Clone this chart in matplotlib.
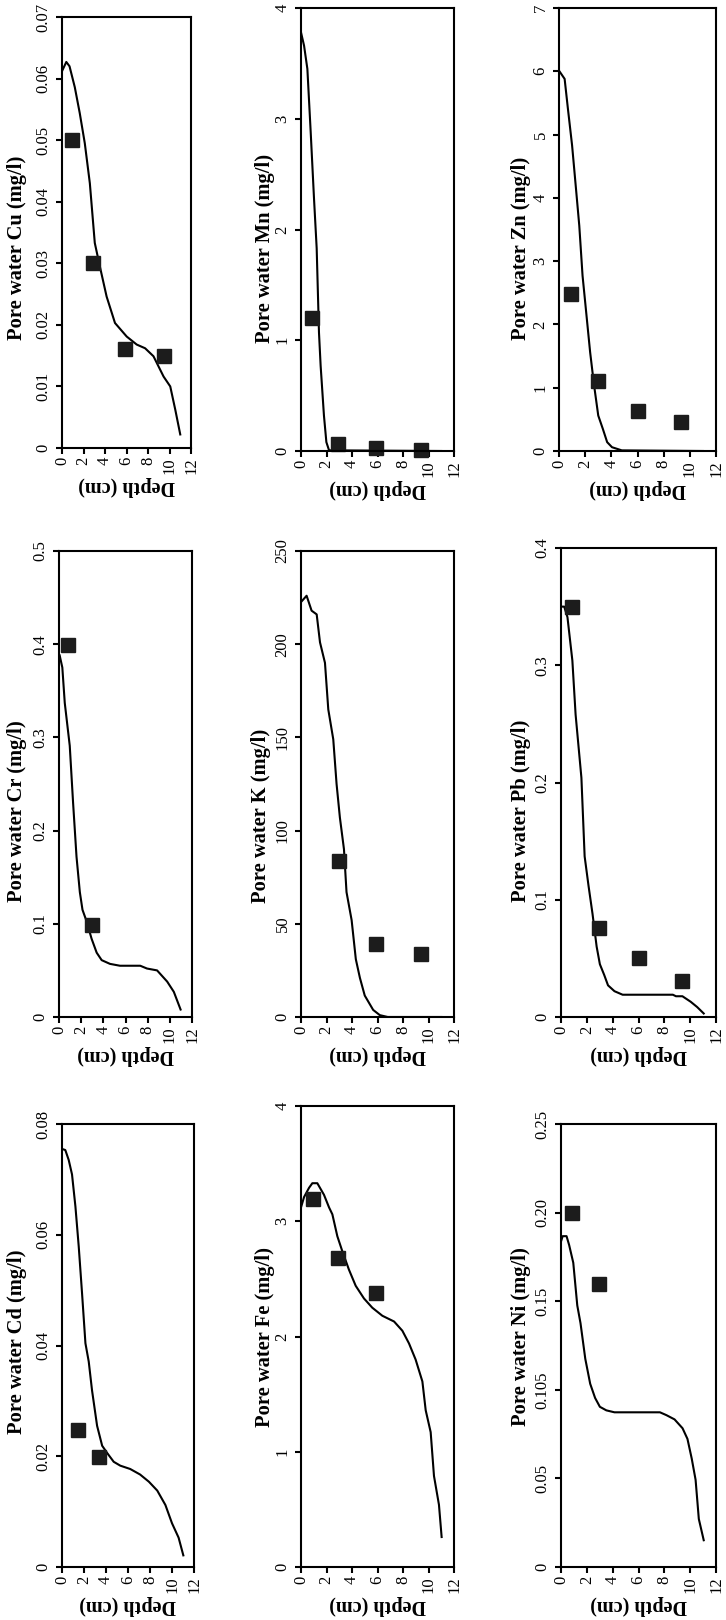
import matplotlib
matplotlib.use("Agg")
import matplotlib.pyplot as plt

plt.rcParams['font.family'] = ['Liberation Serif', 'DejaVu Serif']

W, H = 726, 1620

# ---------------- data (depth in cm, concentration in mg/l) ----------------
cu_curve_depth = [0.0, 0.4, 0.7, 1.19, 1.65, 2.12, 2.59, 3.05, 3.52, 4.15, 4.93, 6.02, 6.95, 7.73, 8.51, 9.45, 10.07, 10.54, 11.0]
cu_curve_conc = [0.0612, 0.0627, 0.062, 0.0586, 0.0544, 0.0495, 0.043, 0.0333, 0.0295, 0.0246, 0.0203, 0.0181, 0.0168, 0.0162, 0.0149, 0.0116, 0.0100, 0.0062, 0.0022]
cu_obs_depth = [0.9, 2.9, 5.9, 9.45]
cu_obs_conc = [0.050, 0.030, 0.016, 0.015]

mn_curve_depth = [0.0, 0.24, 0.5, 0.76, 1.02, 1.23, 1.41, 1.54, 1.8, 1.99, 2.2, 11.0]
mn_curve_conc = [3.78, 3.66, 3.45, 2.88, 2.28, 1.83, 1.07, 0.77, 0.32, 0.08, 0.006, 0.0]
mn_obs_depth = [0.9, 2.9, 5.9, 9.45]
mn_obs_conc = [1.2, 0.06, 0.03, 0.01]

zn_curve_depth = [0.0, 0.43, 0.68, 1.0, 1.3, 1.55, 1.8, 2.05, 2.38, 2.68, 3.0, 3.35, 3.68, 4.05, 4.8, 11.0]
zn_curve_conc = [6.01, 5.88, 5.41, 4.83, 4.14, 3.56, 2.77, 2.25, 1.56, 1.04, 0.56, 0.35, 0.14, 0.06, 0.01, 0.0]
zn_obs_depth = [0.9, 2.95, 6.0, 9.35]
zn_obs_conc = [2.48, 1.1, 0.63, 0.46]

cr_curve_depth = [0.06, 0.3, 0.52, 0.97, 1.27, 1.58, 1.88, 2.12, 2.48, 2.94, 3.4, 3.85, 4.6, 5.5, 7.33, 7.94, 8.85, 9.76, 10.36, 10.97]
cr_curve_conc = [0.388, 0.375, 0.337, 0.291, 0.230, 0.172, 0.134, 0.115, 0.103, 0.084, 0.069, 0.061, 0.057, 0.055, 0.055, 0.052, 0.050, 0.038, 0.027, 0.008]
cr_obs_depth = [0.85, 2.97]
cr_obs_conc = [0.399, 0.099]

k_curve_depth = [0.05, 0.44, 0.83, 1.23, 1.49, 1.88, 2.14, 2.53, 2.79, 3.05, 3.37, 3.57, 3.97, 4.3, 4.62, 5.0, 5.66, 6.18, 6.8, 11.0]
k_curve_conc = [223, 226, 218, 216, 201, 190, 165, 149, 125, 107, 90, 67, 52, 31, 21, 11.5, 3.8, 1.0, 0.0, 0.0]
k_obs_depth = [2.97, 5.92, 9.44]
k_obs_conc = [83.7, 39.3, 33.7]

pb_curve_depth = [0.0, 0.25, 0.5, 0.88, 1.13, 1.38, 1.58, 1.83, 2.13, 2.44, 2.76, 3.01, 3.34, 3.64, 4.14, 4.77, 6.4, 8.66, 8.9, 9.4, 10.04, 10.54, 11.05]
pb_curve_conc = [0.350, 0.350, 0.341, 0.304, 0.258, 0.228, 0.204, 0.137, 0.112, 0.088, 0.060, 0.045, 0.036, 0.027, 0.022, 0.019, 0.019, 0.019, 0.0177, 0.0177, 0.013, 0.0085, 0.003]
pb_obs_depth = [0.83, 2.94, 6.0, 9.34]
pb_obs_conc = [0.350, 0.0756, 0.050, 0.031]

cd_curve_depth = [0.0, 0.3, 0.61, 0.91, 1.22, 1.52, 1.82, 2.13, 2.43, 2.73, 3.19, 3.65, 4.1, 4.7, 5.3, 6.2, 7.1, 7.9, 8.66, 9.4, 10.0, 10.6, 11.03]
cd_curve_conc = [0.0755, 0.0753, 0.0735, 0.0709, 0.0651, 0.0579, 0.0495, 0.0404, 0.0371, 0.0319, 0.0255, 0.0219, 0.0206, 0.019, 0.0183, 0.0177, 0.0167, 0.0154, 0.0138, 0.0112, 0.0079, 0.0053, 0.0021]
cd_obs_depth = [1.43, 3.34]
cd_obs_conc = [0.0248, 0.0199]

fe_curve_depth = [0.0, 0.24, 0.63, 0.89, 1.28, 1.8, 2.2, 2.46, 2.85, 3.24, 3.76, 4.29, 4.94, 5.59, 6.38, 7.3, 7.95, 8.47, 8.99, 9.52, 9.78, 10.17, 10.43, 10.82, 11.03]
fe_curve_conc = [3.12, 3.21, 3.29, 3.33, 3.33, 3.23, 3.12, 3.06, 2.87, 2.74, 2.58, 2.44, 2.33, 2.25, 2.18, 2.13, 2.05, 1.94, 1.80, 1.61, 1.36, 1.17, 0.79, 0.54, 0.26]
fe_obs_depth = [0.92, 2.9, 5.9]
fe_obs_conc = [3.19, 2.68, 2.38]

ni_curve_depth = [0.0, 0.13, 0.43, 0.63, 0.95, 1.26, 1.51, 1.88, 2.26, 2.64, 3.01, 3.51, 4.14, 5.9, 7.66, 8.16, 8.79, 9.41, 9.79, 10.12, 10.42, 10.67, 11.05]
ni_curve_conc = [0.1837, 0.1867, 0.1867, 0.1817, 0.1717, 0.1476, 0.1376, 0.1175, 0.1034, 0.0954, 0.0904, 0.0884, 0.0873, 0.0873, 0.0873, 0.0857, 0.0833, 0.0783, 0.0723, 0.0612, 0.0492, 0.0271, 0.0151]
ni_obs_depth = [0.88, 2.94]
ni_obs_conc = [0.1998, 0.1596]

depth_ticks = [0, 2, 4, 6, 8, 10, 12]
depth_ticklabels = ['0', '2', '4', '6', '8', '10', '12']

cu_ticks = [0, 0.01, 0.02, 0.03, 0.04, 0.05, 0.06, 0.07]
cu_ticklabels = ['0', '0.01', '0.02', '0.03', '0.04', '0.05', '0.06', '0.07']
mn_ticks = [0, 1, 2, 3, 4]
mn_ticklabels = ['0', '1', '2', '3', '4']
zn_ticks = [0, 1, 2, 3, 4, 5, 6, 7]
zn_ticklabels = ['0', '1', '2', '3', '4', '5', '6', '7']
cr_ticks = [0, 0.1, 0.2, 0.3, 0.4, 0.5]
cr_ticklabels = ['0', '0.1', '0.2', '0.3', '0.4', '0.5']
k_ticks = [0, 50, 100, 150, 200, 250]
k_ticklabels = ['0', '50', '100', '150', '200', '250']
pb_ticks = [0, 0.1, 0.2, 0.3, 0.4]
pb_ticklabels = ['0', '0.1', '0.2', '0.3', '0.4']
cd_ticks = [0, 0.02, 0.04, 0.06, 0.08]
cd_ticklabels = ['0', '0.02', '0.04', '0.06', '0.08']
fe_ticks = [0, 1, 2, 3, 4]
fe_ticklabels = ['0', '1', '2', '3', '4']
ni_ticks = [0, 0.05, 0.10, 0.15, 0.20, 0.25]
ni_ticklabels = ['0', '0.05', '0.105', '0.15', '0.20', '0.25']

ylabels = ['Pore water Cu (mg/l)', 'Pore water Mn (mg/l)', 'Pore water Zn (mg/l)',
           'Pore water Cr (mg/l)', 'Pore water K (mg/l)', 'Pore water Pb (mg/l)',
           'Pore water Cd (mg/l)', 'Pore water Fe (mg/l)', 'Pore water Ni (mg/l)']
xlabel = 'Depth (cm)'

panels = [
    (cu_curve_depth, cu_curve_conc, cu_obs_depth, cu_obs_conc, cu_ticks, cu_ticklabels),
    (mn_curve_depth, mn_curve_conc, mn_obs_depth, mn_obs_conc, mn_ticks, mn_ticklabels),
    (zn_curve_depth, zn_curve_conc, zn_obs_depth, zn_obs_conc, zn_ticks, zn_ticklabels),
    (cr_curve_depth, cr_curve_conc, cr_obs_depth, cr_obs_conc, cr_ticks, cr_ticklabels),
    (k_curve_depth, k_curve_conc, k_obs_depth, k_obs_conc, k_ticks, k_ticklabels),
    (pb_curve_depth, pb_curve_conc, pb_obs_depth, pb_obs_conc, pb_ticks, pb_ticklabels),
    (cd_curve_depth, cd_curve_conc, cd_obs_depth, cd_obs_conc, cd_ticks, cd_ticklabels),
    (fe_curve_depth, fe_curve_conc, fe_obs_depth, fe_obs_conc, fe_ticks, fe_ticklabels),
    (ni_curve_depth, ni_curve_conc, ni_obs_depth, ni_obs_conc, ni_ticks, ni_ticklabels),
]

# ---------------- layout (pixel boxes: left, right, top, bottom) ----------------
boxes = [
    (62, 191, 17, 448), (301, 454, 8, 451), (559, 716, 8, 451),
    (59, 192, 551, 1017), (301, 454, 551, 1017), (561, 716, 548, 1017),
    (62, 194, 1124, 1567), (301, 454, 1106, 1567), (561, 716, 1124, 1567),
]
ylabel_pos = [
    (17.5, 248), (265, 248), (521, 248),
    (17.5, 811), (261, 816), (521, 811),
    (17.5, 1342), (265, 1337), (521, 1337),
]

fig = plt.figure(figsize=(W / 100, H / 100), dpi=100)
fig.patch.set_facecolor('white')

for (cd, cc, od, oc, yt, ytl), (l, r, t, b), lab, (lx, ly) in zip(panels, boxes, ylabels, ylabel_pos):
    ax = fig.add_axes([l / W, 1 - b / H, (r - l) / W, (b - t) / H])
    ax.plot(cd, cc, color='black', lw=1.5, solid_joinstyle='round')
    ax.plot(od, oc, linestyle='none', marker='s', ms=9.5, color='#1c1c1c',
            markeredgecolor='#1c1c1c', clip_on=False)
    ax.set_xlim(0, 12)
    ax.set_ylim(yt[0], yt[-1])
    ax.set_xticks(depth_ticks)
    ax.set_xticklabels(depth_ticklabels, rotation=90, fontsize=12)
    ax.set_yticks(yt)
    ax.set_yticklabels(ytl, rotation=90, fontsize=12, va='center')
    for s in ax.spines.values():
        s.set_linewidth(1.5)
    ax.tick_params(direction='out', length=4.5, width=1.5, top=False, right=False)
    ax.tick_params(axis='x', pad=2)
    ax.tick_params(axis='y', pad=3)
    fig.text(lx / W, 1 - ly / H, lab, rotation=90, ha='center', va='center',
             fontsize=14.8, fontweight='bold')
    fig.text(((l + r) / 2) / W, 1 - (b + 38) / H, xlabel, rotation=180,
             ha='center', va='center', fontsize=14.5, fontweight='bold')

fig.savefig('out.png', dpi=100, facecolor='white')
